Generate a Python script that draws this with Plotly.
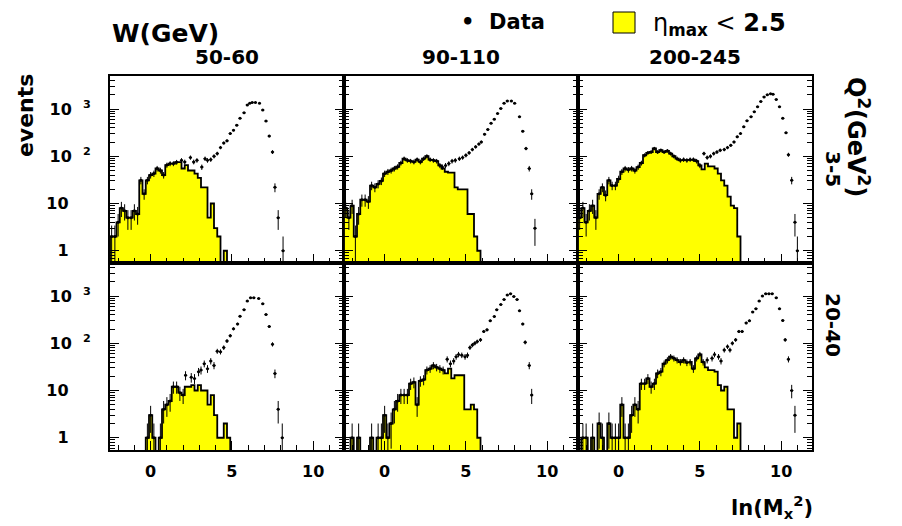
import math
import plotly.graph_objects as go
from plotly.subplots import make_subplots

# ---------------- data ----------------
BIN_START = -2.5      # first bin edge of the ln(Mx^2) histograms
BIN_WIDTH = 0.2       # histogram bin width

w_bins = ["50-60", "90-110", "200-245"]
q2_bins = ["3-5", "20-40"]

# eta_max < 2.5 histograms: events per bin (bins of 0.2 in ln Mx^2 from -2.5)
hist_q3_w50 = [2, 2, 4, 8, 7, 5, 5, 7, 6, 31, 16, 31, 40, 43, 55, 50, 40, 65, 70, 70,
               75, 75, 55, 65, 50, 50, 43, 35, 22, 22, 5, 10, 3, 2, 0, 1]
hist_q3_w90 = [8, 5, 9, 2, 6, 12, 12, 11, 24, 22, 26, 30, 43, 47, 50, 55, 60, 72, 89, 82,
               79, 76, 85, 76, 89, 100, 85, 82, 79, 64, 55, 47, 45, 45, 22, 20, 20, 20, 6, 6,
               2, 1]
hist_q3_w200 = [5, 8, 4, 7, 9, 5, 16, 22, 15, 31, 24, 24, 33, 47, 55, 52, 55, 50, 59, 72,
                105, 118, 123, 146, 123, 134, 123, 130, 114, 100, 89, 82, 85, 82, 85, 85, 79, 64, 53, 70,
                61, 61, 55, 43, 31, 24, 14, 9, 8, 2]
hist_q20_w50 = [0, 0, 0, 0, 0, 0, 0, 0, 0, 0, 0, 1, 3, 1, 0, 1, 4, 5, 6, 12,
                12, 9, 8, 12, 12, 13, 10, 13, 10, 10, 5, 8, 3, 1, 1, 2, 1]
hist_q20_w90 = [0, 0, 1, 0, 1, 0, 0, 0, 1, 0, 1, 1, 3, 1, 2, 4, 6, 8, 8, 8,
                14, 15, 5, 16, 17, 27, 29, 34, 31, 29, 27, 23, 29, 18, 21, 21, 21, 4, 4, 5,
                4, 1]
hist_q20_w200 = [0, 1, 1, 0, 1, 0, 2, 1, 0, 2, 1, 1, 1, 5, 1, 1, 3, 5, 4, 14,
                 14, 18, 12, 14, 23, 25, 37, 44, 52, 48, 44, 40, 44, 39, 40, 29, 48, 58, 40, 31,
                 27, 27, 25, 13, 10, 12, 4, 4, 1, 2]

# Full data sample, where it rises above the eta_max < 2.5 histogram
data_x_q3_w50 = [1.9, 2.1, 2.45, 2.65, 2.85, 3.15, 3.35, 3.5, 3.7, 3.9, 4.1, 4.3, 4.5, 4.7, 4.9,
                 5.1, 5.3, 5.5, 5.75, 5.95, 6.1, 6.25, 6.45, 6.7, 6.9, 7.1, 7.3, 7.5, 7.65, 7.85, 8.15]
data_y_q3_w50 = [82, 76, 94, 76, 82, 59, 89, 82, 85, 100, 114, 153, 191, 212, 303,
                 357, 456, 635, 833, 1220, 1320, 1380, 1380, 1320, 950, 555, 267, 123, 22, 5, 1]

data_x_q3_w90 = [3.55, 3.75, 3.95, 4.15, 4.35, 4.6, 4.8, 5.0, 5.2, 5.4, 5.6, 5.8, 5.95, 6.15, 6.35,
                 6.55, 6.75, 6.95, 7.15, 7.35, 7.55, 7.8, 8.0, 8.3, 8.5, 8.7, 8.9, 9.05, 9.25]
data_y_q3_w90 = [59, 64, 70, 79, 82, 89, 94, 105, 118, 139, 158, 181, 201, 294, 370,
                 498, 611, 806, 1030, 1320, 1480, 1480, 1320, 690, 340, 146, 55, 16, 3]

data_x_q3_w200 = [5.25, 5.45, 5.65, 5.85, 6.05, 6.25, 6.5, 6.7, 6.9, 7.1, 7.3, 7.5, 7.7, 7.9, 8.15,
                  8.35, 8.55, 8.75, 8.95, 9.15, 9.35, 9.5, 9.7, 9.9, 10.1, 10.3, 10.45, 10.65, 10.85, 11.0]
data_y_q3_w200 = [114, 94, 100, 114, 123, 134, 139, 153, 170, 201, 258, 303, 420, 565, 690,
                  878, 1120, 1450, 1800, 2000, 2100, 2050, 1600, 1120, 635, 314, 108, 31, 4, 1]

data_x_q20_w50 = [2.15, 2.5, 2.7, 2.95, 3.1, 3.3, 3.5, 3.7, 3.9, 4.1, 4.3, 4.5, 4.7, 4.9, 5.1,
                  5.35, 5.5, 5.75, 5.95, 6.15, 6.35, 6.65, 6.9, 7.1, 7.3, 7.5, 7.65, 7.85, 8.1]
data_y_q20_w50 = [21, 19, 18, 25, 27, 37, 29, 42, 34, 68, 66, 81, 112, 145, 202,
                  256, 372, 515, 780, 918, 918, 890, 684, 405, 227, 95, 23, 4, 1]

data_x_q20_w90 = [3.85, 4.05, 4.25, 4.4, 4.55, 4.75, 4.95, 5.1, 5.25, 5.4, 5.55, 5.7, 5.9, 6.1, 6.3,
                  6.5, 6.75, 6.9, 7.15, 7.35, 7.55, 7.75, 7.95, 8.15, 8.3, 8.5, 8.65, 8.9, 9.05]
data_y_q20_w90 = [46, 37, 42, 52, 58, 56, 52, 56, 81, 92, 100, 109, 118, 178, 192,
                  300, 370, 515, 660, 845, 1050, 1120, 980, 845, 490, 256, 105, 34, 8]

data_x_q20_w200 = [5.45, 5.75, 5.9, 6.15, 6.3, 6.5, 6.7, 6.85, 7.0, 7.2, 7.4, 7.6, 7.85, 8.05, 8.25,
                   8.45, 8.65, 8.85, 9.05, 9.25, 9.45, 9.7, 9.9, 10.1, 10.25, 10.45, 10.65, 10.85]
data_y_q20_w200 = [44, 48, 58, 52, 42, 72, 85, 72, 100, 118, 178, 178, 270, 300, 460,
                   540, 780, 1000, 1120, 1120, 1120, 918, 540, 305, 118, 46, 10, 3]

X_RANGE = [-2.5, 11.9]
Y_RANGE = [0.55, 5000]
y_tickvals = [1, 10, 100, 1000]

# ---------------- figure ----------------
FONT = "DejaVu Sans"
NB = "\u00a0"
PAD = "<span style='color:rgba(255,255,255,0)'>00</span>"
y_ticktext = ["1" + PAD, "10" + PAD,
              "10" + NB * 2 + "<sup>2</sup>", "10" + NB * 2 + "<sup>3</sup>"]
FLOOR = 0.01

panels = [
    (1, 1, hist_q3_w50, data_x_q3_w50, data_y_q3_w50),
    (1, 2, hist_q3_w90, data_x_q3_w90, data_y_q3_w90),
    (1, 3, hist_q3_w200, data_x_q3_w200, data_y_q3_w200),
    (2, 1, hist_q20_w50, data_x_q20_w50, data_y_q20_w50),
    (2, 2, hist_q20_w90, data_x_q20_w90, data_y_q20_w90),
    (2, 3, hist_q20_w200, data_x_q20_w200, data_y_q20_w200),
]

fig = make_subplots(rows=2, cols=3, horizontal_spacing=0, vertical_spacing=0)

for row, col, hist, dx, dy in panels:
    edges = [BIN_START + BIN_WIDTH * i for i in range(len(hist) + 1)]
    px, py = [edges[0]], [FLOOR]
    for i, v in enumerate(hist):
        yv = v if v > 0 else FLOOR
        px += [edges[i], edges[i + 1]]
        py += [yv, yv]
    px.append(edges[-1])
    py.append(FLOOR)
    fig.add_trace(go.Scatter(x=px, y=py, mode="lines", fill="toself", fillcolor="#ffff00",
                             line=dict(color="black", width=1.8), hoverinfo="skip",
                             showlegend=False), row=row, col=col)

    # data points: equal to the histogram where the cut keeps everything
    xs, ys = [], []
    for i, v in enumerate(hist):
        c = edges[i] + BIN_WIDTH / 2
        if v > 0 and c < dx[0] - 0.1:
            xs.append(c)
            ys.append(v)
    xs += dx
    ys += dy
    ep = [math.sqrt(v) for v in ys]
    em = [v - max(v - math.sqrt(v), FLOOR) for v in ys]
    fig.add_trace(go.Scatter(x=xs, y=ys, mode="markers",
                             marker=dict(color="black", size=3),
                             error_y=dict(type="data", array=ep, arrayminus=em, symmetric=False,
                                          color="black", thickness=1, width=0),
                             error_x=dict(type="constant", value=BIN_WIDTH / 2, color="black",
                                          thickness=1, width=0),
                             showlegend=False), row=row, col=col)

    fig.update_xaxes(row=row, col=col, range=X_RANGE, tickmode="linear", tick0=0, dtick=5,
                     ticks="inside", ticklen=9, tickwidth=1, tickcolor="black",
                     minor=dict(tickmode="linear", tick0=0, dtick=1, ticks="inside", ticklen=5,
                                tickcolor="black", showgrid=False),
                     showline=True, linecolor="black", linewidth=2, mirror=True,
                     showgrid=False, zeroline=False, showticklabels=(row == 2),
                     ticklabelstandoff=6,
                     tickfont=dict(family=FONT, size=16, color="black", weight="bold"))
    fig.update_yaxes(row=row, col=col, type="log",
                     range=[math.log10(Y_RANGE[0]), math.log10(Y_RANGE[1])],
                     tickmode="array", tickvals=y_tickvals, ticktext=y_ticktext,
                     ticks="inside", ticklen=9, tickwidth=1, tickcolor="black",
                     minor=dict(dtick="D1", ticks="inside", ticklen=5, tickcolor="black",
                                showgrid=False),
                     showline=True, linecolor="black", linewidth=2, mirror="ticks",
                     showgrid=False, zeroline=False, showticklabels=(col == 1),
                     ticklabelstandoff=14,
                     tickfont=dict(family=FONT, size=16, color="black", weight="bold"))

annos = []
# column titles
for k, lab in enumerate(w_bins):
    xr = "x domain" if k == 0 else f"x{k + 1} domain"
    annos.append(dict(text=f"<b>{lab}</b>", xref=xr, x=0.5, yref="paper", y=1.051,
                      xanchor="center", yanchor="middle", showarrow=False,
                      font=dict(family=FONT, size=20, color="black")))
# row labels
for lab, yy in zip(q2_bins, [0.751, 0.334]):
    annos.append(dict(text=f"<b>{lab}</b>", xref="paper", x=1.03, yref="paper", y=yy,
                      textangle=90, xanchor="center", yanchor="middle", showarrow=False,
                      font=dict(family=FONT, size=20, color="black")))
annos += [
    dict(text="<b>W(GeV)</b>", xref="paper", x=0.0, yref="paper", y=1.114,
         xanchor="left", yanchor="middle", showarrow=False,
         font=dict(family=FONT, size=25, color="black")),
    dict(text="<b>Q<sup>2</sup>(GeV<sup>2</sup>)</b>", xref="paper", x=1.0655, yref="paper", y=0.837,
         textangle=90, xanchor="center", yanchor="middle", showarrow=False,
         font=dict(family=FONT, size=24, color="black")),
    dict(text="<b>events</b>", xref="paper", x=-0.121, yref="paper", y=0.893,
         textangle=-90, xanchor="center", yanchor="middle", showarrow=False,
         font=dict(family=FONT, size=22, color="black")),
    dict(text="<b>ln(M<sub>x</sub><sup>2</sup>)</b>", xref="paper", x=1.004, yref="paper", y=-0.152,
         xanchor="right", yanchor="middle", showarrow=False,
         font=dict(family=FONT, size=21, color="black")),
    dict(text="<b>•" + NB + NB + "Data</b>", xref="paper", x=(459 - 110) / 702, yref="paper",
         y=(450 - 22) / 374, xanchor="left", yanchor="middle", showarrow=False,
         font=dict(family=FONT, size=21, color="black")),
    dict(text="η<sub><b>max</b></sub> &lt; <b>2.5</b>", xref="paper", x=(651 - 110) / 702,
         yref="paper", y=(450 - 24) / 374, xanchor="left", yanchor="middle", showarrow=False,
         font=dict(family=FONT, size=24, color="black")),
]

# The page body adds an 8px offset; the figure is sized so the frame lands at
# x 110..812, y 76..450 in the 902x526 window.
fig.update_layout(
    width=894, height=518,
    margin=dict(l=102, r=90, t=68, b=76, autoexpand=False),
    paper_bgcolor="white", plot_bgcolor="white",
    showlegend=False,
    annotations=annos,
    shapes=[dict(type="rect", xref="paper", yref="paper",
                 x0=(613 - 110) / 702, x1=(635 - 110) / 702,
                 y0=(450 - 33) / 374, y1=(450 - 12) / 374,
                 fillcolor="#ffff00", line=dict(color="black", width=1))],
)

fig.write_html("out.html")
